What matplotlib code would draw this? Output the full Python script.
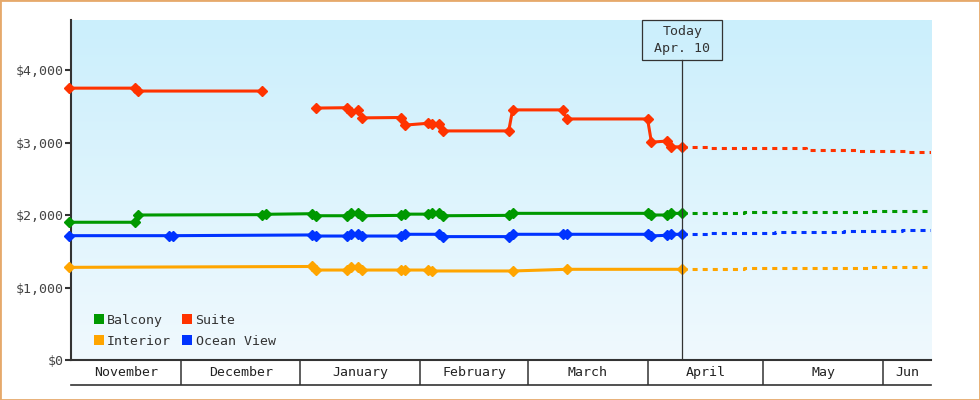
import numpy as np
import matplotlib
matplotlib.use('Agg')
import matplotlib.pyplot as plt
import matplotlib.dates as mdates
from matplotlib.lines import Line2D
from matplotlib.patches import Rectangle
from matplotlib.ticker import FuncFormatter

plt.rcParams['font.family'] = ['DejaVu Sans Mono']
plt.rcParams['font.size'] = 9.5

nan = np.nan

# price history up to today (one entry per price change)
suite_dates = ['2024-11-02', '2024-11-19', '2024-11-20', '2024-12-22', '2024-12-28',
               '2025-01-05', '2025-01-13', '2025-01-14', '2025-01-16', '2025-01-17',
               '2025-01-27', '2025-01-28', '2025-02-03', '2025-02-04', '2025-02-06',
               '2025-02-07', '2025-02-24', '2025-02-25', '2025-03-10', '2025-03-11',
               '2025-04-01', '2025-04-02', '2025-04-06', '2025-04-07', '2025-04-10']
suite_price = [3750, 3750, 3710, 3710, nan,
               3475, 3480, 3425, 3445, 3340,
               3345, 3240, 3265, 3250, 3250,
               3160, 3160, 3450, 3450, 3325,
               3325, 3005, 3020, 2940, 2940]

balcony_dates = ['2024-11-02', '2024-11-19', '2024-11-20', '2024-12-22', '2024-12-23',
                 '2025-01-04', '2025-01-05', '2025-01-13', '2025-01-14', '2025-01-16',
                 '2025-01-17', '2025-01-27', '2025-01-28', '2025-02-03', '2025-02-04',
                 '2025-02-06', '2025-02-07', '2025-02-24', '2025-02-25', '2025-04-01',
                 '2025-04-02', '2025-04-06', '2025-04-07', '2025-04-10']
balcony_price = [1900, 1900, 2000, 2005, 2010,
                 2018, 1990, 1990, 2023, 2023,
                 1990, 1995, 2012, 2012, 2023,
                 2023, 1990, 1995, 2023, 2023,
                 2000, 2000, 2023, 2023]

ocean_dates = ['2024-11-02', '2024-11-28', '2024-11-29', '2025-01-04', '2025-01-05',
               '2025-01-13', '2025-01-14', '2025-01-16', '2025-01-17', '2025-01-27',
               '2025-01-28', '2025-02-06', '2025-02-07', '2025-02-24', '2025-02-25',
               '2025-03-10', '2025-03-11', '2025-04-01', '2025-04-02', '2025-04-06',
               '2025-04-07', '2025-04-10']
ocean_price = [1715, 1715, 1715, 1725, 1710,
               1710, 1734, 1734, 1710, 1710,
               1734, 1734, 1702, 1702, 1734,
               1734, 1734, 1734, 1712, 1720,
               1734, 1734]

interior_dates = ['2024-11-02', '2025-01-04', '2025-01-05', '2025-01-13', '2025-01-14',
                  '2025-01-16', '2025-01-17', '2025-01-27', '2025-01-28', '2025-02-03',
                  '2025-02-04', '2025-02-25', '2025-03-11', '2025-04-10']
interior_price = [1278, 1290, 1241, 1241, 1278,
                  1278, 1241, 1241, 1241, 1241,
                  1228, 1228, 1251, 1251]

# forecast after today
suite_fc_dates = ['2025-04-10', '2025-04-17', '2025-05-12', '2025-05-25', '2025-06-07', '2025-06-14']
suite_fc_price = [2935, 2920, 2897, 2879, 2866, 2866]
balcony_fc_dates = ['2025-04-10', '2025-04-26', '2025-05-29', '2025-06-14']
balcony_fc_price = [2023, 2037, 2055, 2055]
ocean_fc_dates = ['2025-04-10', '2025-04-17', '2025-05-04', '2025-05-22', '2025-06-06', '2025-06-14']
ocean_fc_price = [1738, 1748, 1761, 1775, 1789, 1789]
interior_fc_dates = ['2025-04-10', '2025-04-26', '2025-05-29', '2025-06-14']
interior_fc_price = [1251, 1265, 1279, 1279]

series = [
    ('Balcony', '#009900', balcony_dates, balcony_price, balcony_fc_dates, balcony_fc_price),
    ('Interior', '#ffa500', interior_dates, interior_price, interior_fc_dates, interior_fc_price),
    ('Suite', '#ff3300', suite_dates, suite_price, suite_fc_dates, suite_fc_price),
    ('Ocean View', '#0033ff', ocean_dates, ocean_price, ocean_fc_dates, ocean_fc_price),
]

today = np.datetime64('2025-04-10')
today_label = 'Today\nApr. 10'
months = ['November', 'December', 'January', 'February', 'March', 'April', 'May', 'Jun']
first_month = np.datetime64('2024-11', 'M')
x_start = np.datetime64('2024-11-02T12:00')
x_end = np.datetime64('2025-06-13T12:00')
y_ticks = [0, 1000, 2000, 3000, 4000]
y_max = 4690

W, H = 980, 400
fig = plt.figure(figsize=(W / 100, H / 100), dpi=100)
rect = [71 / W, 40 / H, 860 / W, 340 / H]

# gradient background behind the plot
bg = fig.add_axes(rect, zorder=0)
top = np.array([0xcb, 0xef, 0xfc]) / 255
bot = np.array([0xf0, 0xf9, 0xfe]) / 255
t = np.linspace(0, 1, 256)[:, None, None]
bg.imshow(top * (1 - t) + bot * t, aspect='auto', interpolation='bilinear')
bg.axis('off')

ax = fig.add_axes(rect, zorder=1)
ax.patch.set_visible(False)

for name, color, d, p, fd, fp in series:
    ax.plot(np.array(fd, dtype='datetime64[D]'), fp, color=color, lw=2.2,
            ls=(0, (1.65, 1.65)), drawstyle='steps-post', zorder=2)
for name, color, d, p, fd, fp in [series[1], series[3], series[0], series[2]]:
    ax.plot(np.array(d, dtype='datetime64[D]'), p, color=color, lw=2.2,
            marker='D', ms=4.6, mew=1, clip_on=False, zorder=3)

ax.set_xlim(x_start, x_end)
ax.set_ylim(0, y_max)
ax.set_yticks(y_ticks)
ax.yaxis.set_major_formatter(FuncFormatter(lambda v, pos: f'${v:,.0f}'))
ax.tick_params(axis='y', direction='out', length=4.5, width=1.5, color='#333333',
               labelcolor='#444444', pad=1)
ax.tick_params(axis='x', bottom=False, labelbottom=False)
for s in ['top', 'right']:
    ax.spines[s].set_visible(False)
for s in ['left', 'bottom']:
    ax.spines[s].set_color('#333333')
    ax.spines[s].set_linewidth(1.5)

# today marker
box_w, box_h = 80 / 860, 40 / 340
x0, x1 = mdates.date2num(x_start), mdates.date2num(x_end)
xt = (mdates.date2num(today) - x0) / (x1 - x0)
ax.axvline(today, ymin=0, ymax=1 - box_h, color='#333333', lw=0.9, zorder=4)
ax.add_patch(Rectangle((xt - box_w / 2, 1 - box_h), box_w, box_h, transform=ax.transAxes,
                       fill=False, ec='#333333', lw=0.9, clip_on=False, zorder=4))
ax.text(xt, 1 - box_h / 2, today_label, transform=ax.transAxes, ha='center', va='center',
        linespacing=1.35, color='#333333')

handles = [Line2D([], [], ls='', marker='s', ms=7.5, mew=0, color=c) for _, c, *_ in series]
ax.legend(handles, [s[0] for s in series], loc='lower left', bbox_to_anchor=(0.026, 0.036),
          ncol=2, frameon=False, handlelength=0.8, handletextpad=0.25, columnspacing=0.8,
          labelspacing=0.58, borderpad=0, borderaxespad=0, labelcolor='#333333')

# month band under the axis
band = fig.add_axes([71 / W, 15 / H, 860 / W, 25 / H])
band.set_xlim(x_start, x_end)
band.set_ylim(0, 1)
band.set_xticks([])
band.set_yticks([])
band.patch.set_visible(False)
for s in ['top', 'left', 'right']:
    band.spines[s].set_visible(False)
band.spines['bottom'].set_color('#333333')
band.spines['bottom'].set_linewidth(1.2)
for i, name in enumerate(months):
    m0 = (first_month + i).astype('datetime64[D]')
    m1 = (first_month + i + 1).astype('datetime64[D]')
    if i > 0:
        band.axvline(m0, color='#333333', lw=1.1)
    lo = max(mdates.date2num(m0), x0)
    hi = min(mdates.date2num(m1), x1)
    band.text((lo + hi) / 2, 0.5, name, ha='center', va='center', color='#222222')

fig.add_artist(Rectangle((0, 0), 1, 1, transform=fig.transFigure, fill=False,
                         ec='#e6a96b', lw=2))

fig.savefig('out.png', dpi=100)
